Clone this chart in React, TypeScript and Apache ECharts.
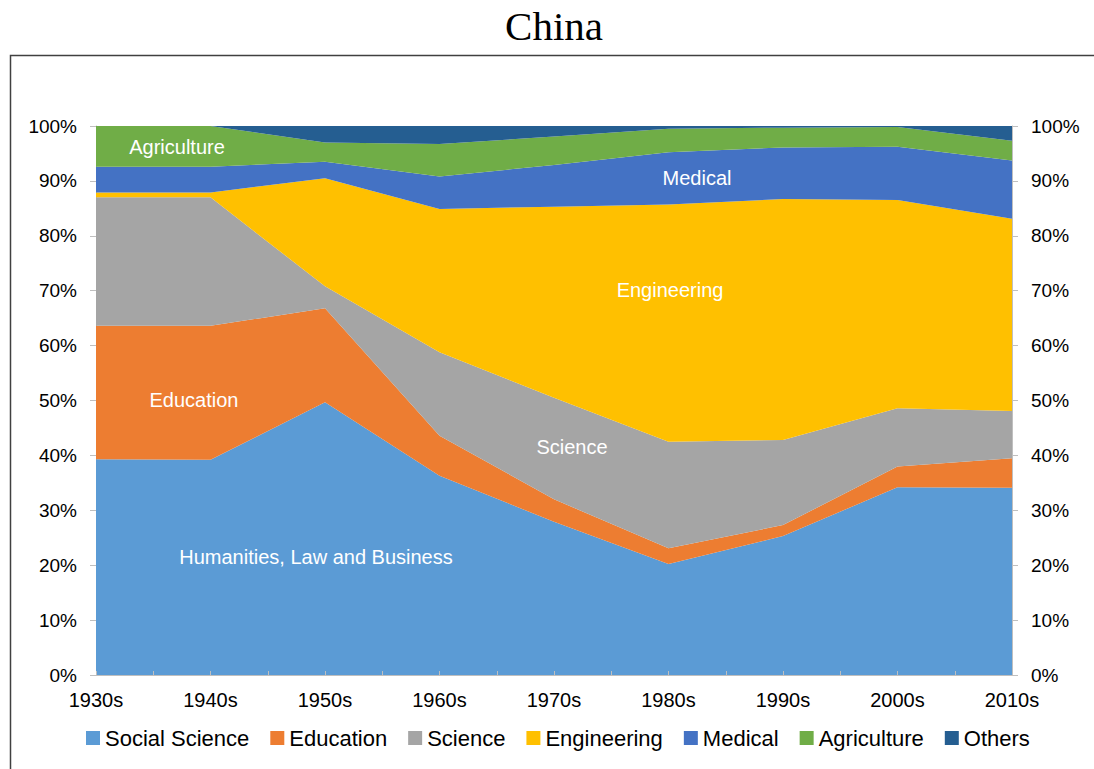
import React, { useEffect, useRef } from "react";
import * as echarts from "echarts";

const categories = ["1930s", "1940s", "1950s", "1960s", "1970s", "1980s", "1990s", "2000s", "2010s"];
const socialScience = [39.3, 39.2, 49.7, 36.3, 27.9, 20.2, 25.3, 34.2, 34.1];
const education = [24.3, 24.4, 17.1, 7.3, 4.1, 2.9, 2.0, 3.8, 5.4];
const science = [23.4, 23.4, 4.0, 15.2, 18.5, 19.4, 15.5, 10.6, 8.6];
const engineering = [0.9, 0.9, 19.7, 26.1, 34.8, 43.2, 43.9, 37.9, 35.0];
const medical = [4.7, 4.7, 3.0, 5.9, 7.6, 9.5, 9.4, 9.7, 10.6];
const agriculture = [7.4, 7.4, 3.5, 5.9, 5.2, 4.3, 3.6, 3.6, 3.6];
const others = [0, 0, 3.0, 3.3, 1.9, 0.5, 0.3, 0.2, 2.7];

const seriesDefs = [
  { name: "Social Science", data: socialScience, color: "#5B9BD5" },
  { name: "Education", data: education, color: "#ED7D31" },
  { name: "Science", data: science, color: "#A5A5A5" },
  { name: "Engineering", data: engineering, color: "#FFC000" },
  { name: "Medical", data: medical, color: "#4472C4" },
  { name: "Agriculture", data: agriculture, color: "#70AD47" },
  { name: "Others", data: others, color: "#255E91" },
];

const areaLabels = [
  { text: "Agriculture", x: 177, y: 147 },
  { text: "Medical", x: 697, y: 178 },
  { text: "Engineering", x: 670, y: 290 },
  { text: "Education", x: 194, y: 400 },
  { text: "Science", x: 572, y: 447 },
  { text: "Humanities, Law and Business", x: 316, y: 557 },
];

const SANS = '"Liberation Sans", Arial, sans-serif';
const AXIS_GRAY = "#BFBFBF";

export default function App() {
  const ref = useRef<HTMLDivElement>(null);
  useEffect(() => {
    if (!ref.current) return;
    const chart = echarts.init(ref.current, undefined, { renderer: "svg" });
    const tickSlots = Array(categories.length * 2 - 1).fill("");
    const yAxisCommon = {
      type: "value",
      min: 0,
      max: 100,
      interval: 10,
      splitLine: { show: false },
      axisLine: { show: true, lineStyle: { color: AXIS_GRAY, width: 1 } },
      axisTick: { show: true, length: 6, lineStyle: { color: AXIS_GRAY } },
      axisLabel: {
        formatter: "{value}%",
        color: "#000",
        fontSize: 19,
        fontFamily: SANS,
        margin: 19,
      },
    };
    chart.setOption({
      animation: false,
      backgroundColor: "#fff",
      title: {
        text: "China",
        left: 549,
        top: 0,
        textAlign: "center",
        textStyle: {
          fontFamily: '"Liberation Serif", "Times New Roman", serif',
          fontSize: 41,
          fontWeight: "normal",
          color: "#000",
        },
      },
      legend: {
        left: 81,
        top: 722,
        icon: "rect",
        itemWidth: 14,
        itemHeight: 14,
        itemGap: 21,
        textStyle: { fontSize: 22, fontFamily: SANS, color: "#000" },
        data: seriesDefs.map((s) => s.name),
      },
      grid: { left: 96, right: 82, top: 126, bottom: 94, containLabel: false },
      xAxis: [
        {
          type: "category",
          data: categories,
          boundaryGap: false,
          axisLine: { show: true, lineStyle: { color: AXIS_GRAY, width: 1 } },
          axisTick: { show: false },
          axisLabel: {
            color: "#000",
            fontSize: 20,
            fontFamily: SANS,
            margin: 15,
          },
          splitLine: { show: false },
          z: 10,
        },
        {
          type: "category",
          data: tickSlots,
          boundaryGap: false,
          position: "bottom",
          axisLine: { show: false },
          axisLabel: { show: false },
          axisTick: {
            show: true,
            inside: true,
            length: 4,
            interval: 0,
            lineStyle: { color: AXIS_GRAY },
          },
          splitLine: { show: false },
          z: 10,
        },
      ],
      yAxis: [
        { ...yAxisCommon, position: "left" },
        { ...yAxisCommon, position: "right" },
      ],
      series: seriesDefs.map((s) => ({
        name: s.name,
        type: "line",
        stack: "total",
        data: s.data,
        xAxisIndex: 0,
        yAxisIndex: 0,
        symbol: "none",
        showSymbol: false,
        lineStyle: { width: 0, color: s.color },
        itemStyle: { color: s.color },
        areaStyle: { color: s.color, opacity: 1 },
      })),
      graphic: [
        {
          type: "rect",
          left: 8,
          top: 53,
          shape: { x: 0, y: 0, width: 1100, height: 760 },
          style: { fill: "none", stroke: "#404040", lineWidth: 1.5 },
          silent: true,
          z: -10,
        },
        ...areaLabels.map((l) => ({
          type: "text",
          x: l.x,
          y: l.y,
          z: 100,
          silent: true,
          style: {
            text: l.text,
            fill: "#fff",
            font: `20px ${SANS}`,
            align: "center",
            verticalAlign: "middle",
          },
        })),
      ],
    });
    return () => chart.dispose();
  }, []);
  return (
    <div
      ref={ref}
      style={{ position: "fixed", left: 0, top: 0, width: 1094, height: 769 }}
    />
  );
}
